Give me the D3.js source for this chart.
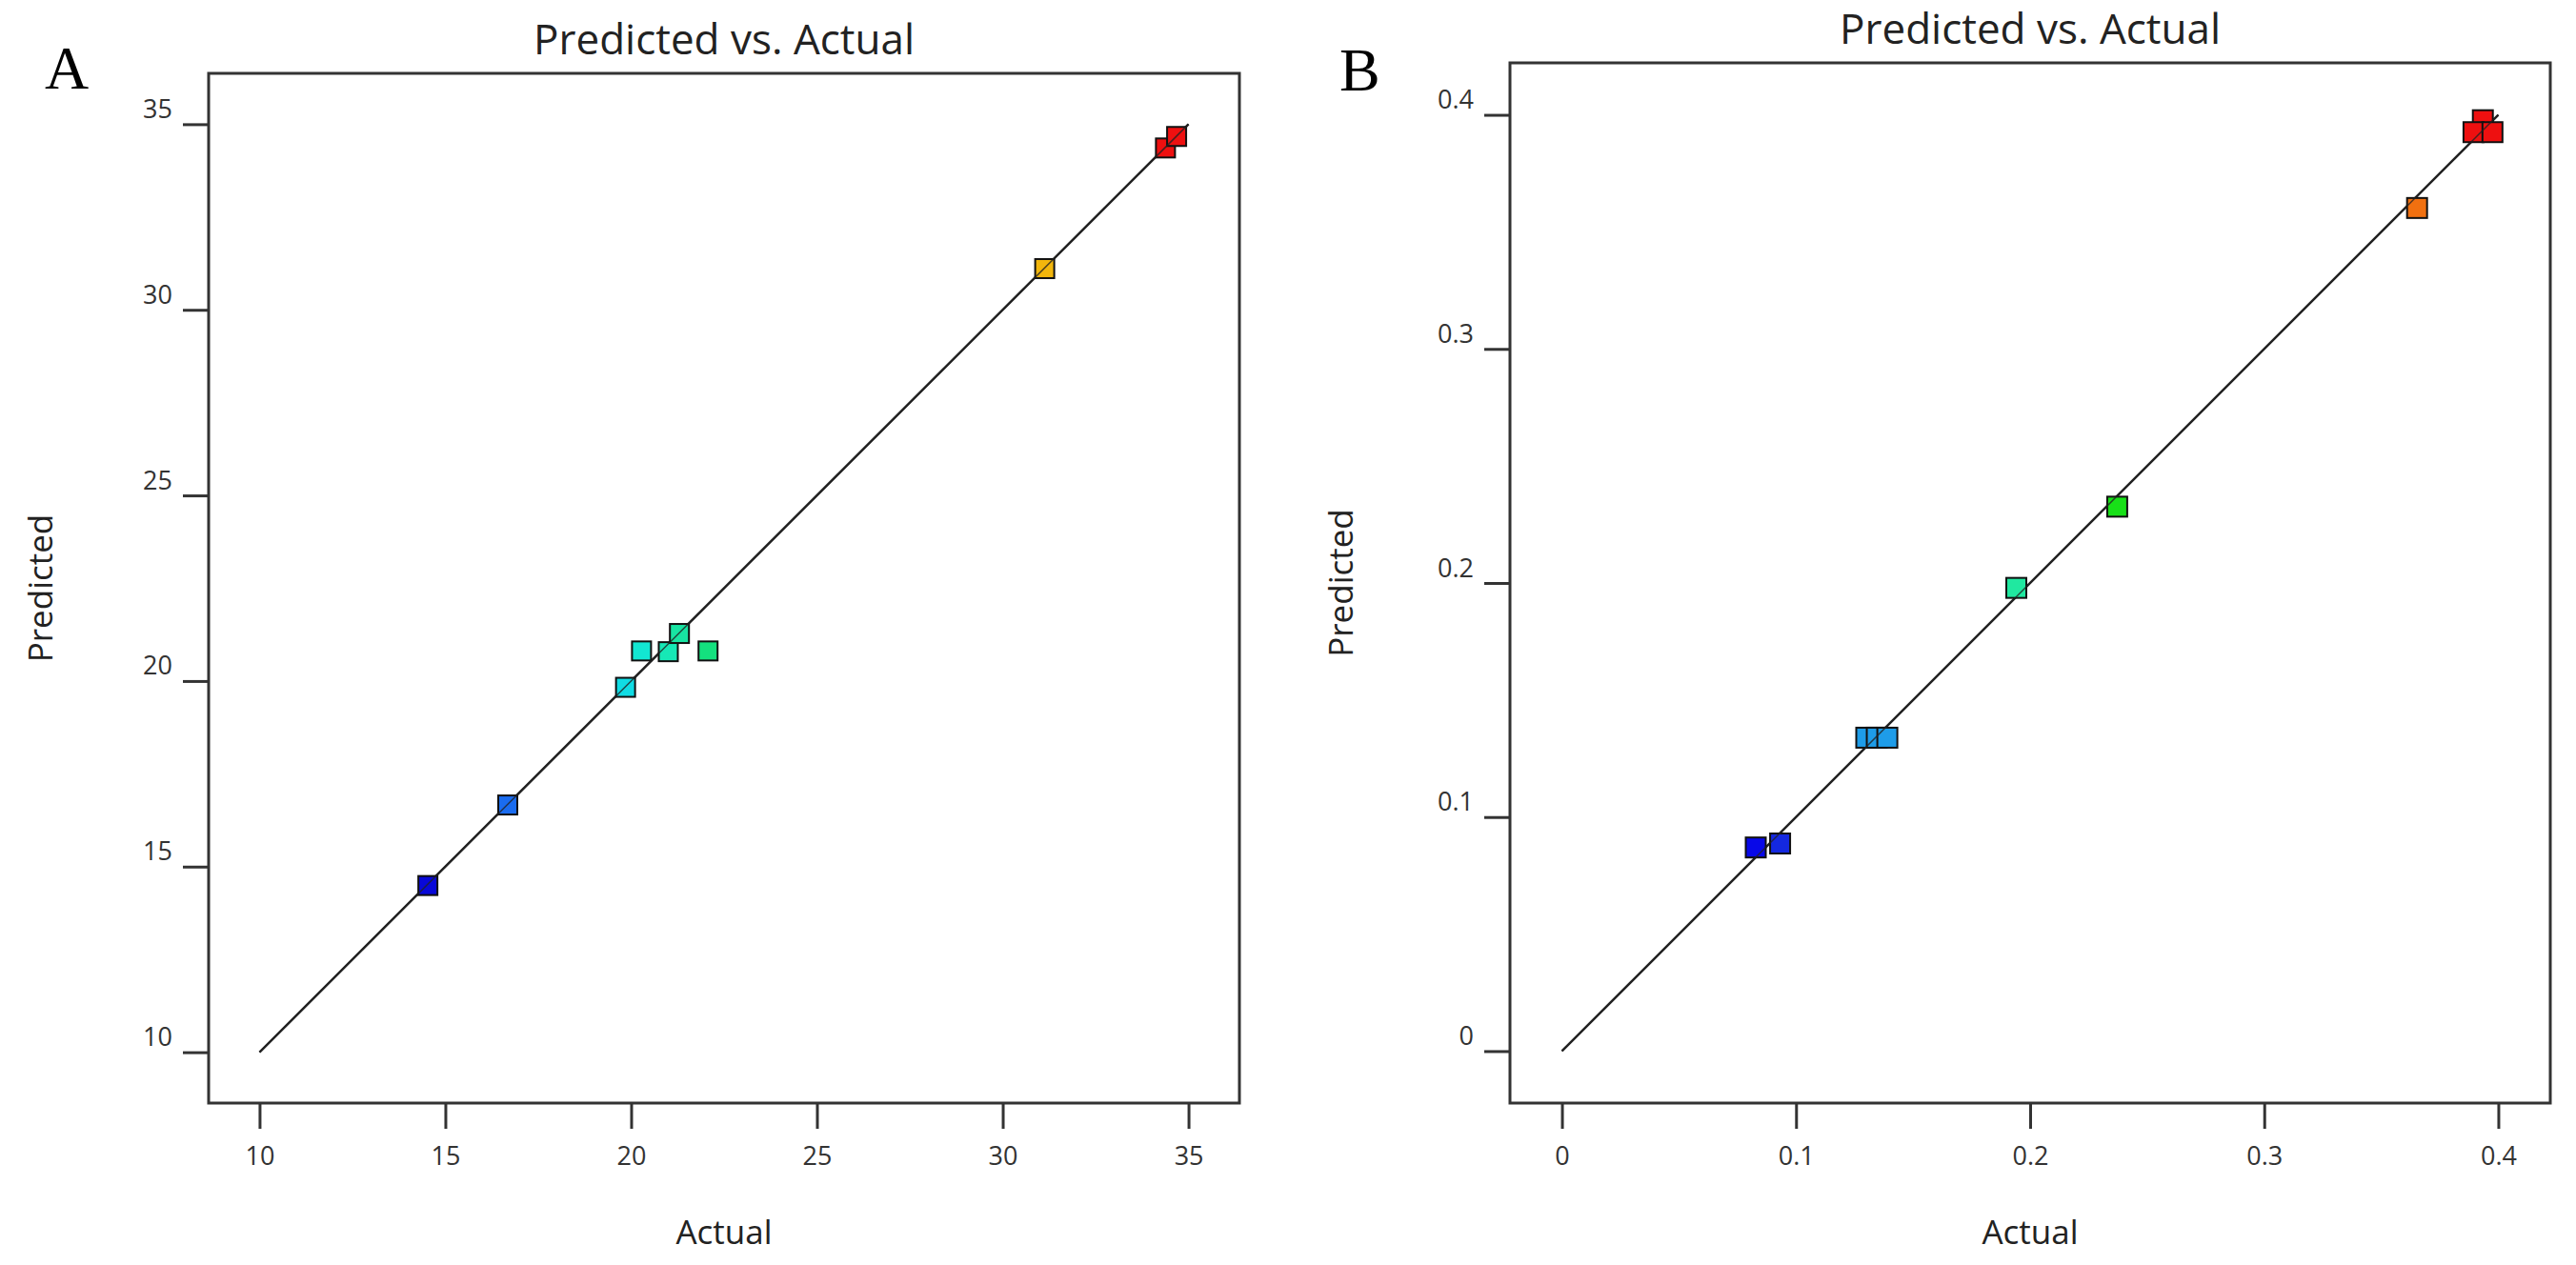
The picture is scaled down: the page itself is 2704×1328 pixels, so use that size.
<!DOCTYPE html>
<html lang="en">
<head>
    <meta charset="UTF-8">
    <title>Predicted vs. Actual</title>
    <script src="https://d3js.org/d3.v7.min.js"></script>
    <style>
        body { margin: 0; background: #fff; }
        svg { display: block; font-family: "Open Sans", "Noto Sans", sans-serif; }
        .tick text { font-family: "Open Sans", "Noto Sans", sans-serif; font-size: 27px; fill: #333; }
        .tick line { stroke: #333; stroke-width: 3; }
        .title { font-size: 44px; fill: #222; text-anchor: middle; }
        .axis-label { font-size: 35px; fill: #222; text-anchor: middle; }
        .panel-letter { font-family: "Liberation Serif", "DejaVu Serif", serif; font-size: 64px; fill: #000; }
    </style>
</head>
<body>
<div id="chart"></div>
<script>
    // Panel A
    const actualA = [14.53, 16.68, 19.85, 20.28, 21.0, 21.3, 22.07, 31.13, 34.38, 34.68];
    const predictedA = [14.49, 16.66, 19.83, 20.81, 20.79, 21.28, 20.81, 31.11, 34.36, 34.67];
    const colorsA = ["#0808d8", "#1a6cf0", "#10dce4", "#12e6d2", "#16e8b6", "#18e4a2", "#14e07e", "#f2b60c", "#ee1010", "#ee1010"];
    const ticksA = [10, 15, 20, 25, 30, 35];
    const lineA = [10, 35];

    // Panel B
    const actualB = [0.0828, 0.0932, 0.130, 0.1345, 0.139, 0.1941, 0.2372, 0.3653, 0.3934, 0.3894, 0.3975];
    const predictedB = [0.0870, 0.0887, 0.1339, 0.1339, 0.1339, 0.1979, 0.2326, 0.3602, 0.3977, 0.3926, 0.3926];
    const colorsB = ["#0808e8", "#1428e0", "#1e9ce8", "#1e9ce8", "#1e9ce8", "#20e8a0", "#18e018", "#f07010", "#ee1010", "#ee1010", "#ee1010"];
    const ticksB = [0, 0.1, 0.2, 0.3, 0.4];
    const lineB = [0, 0.4];

    const svg = d3.select("#chart").append("svg").attr("width", 2704).attr("height", 1328);

    function panel(cfg) {
        const x = d3.scaleLinear().domain(cfg.domain).range([cfg.left, cfg.right]);
        const y = d3.scaleLinear().domain(cfg.domain).range([cfg.bottom, cfg.top]);
        const g = svg.append("g");

        g.append("text").attr("class", "panel-letter").attr("x", cfg.letterX).attr("y", cfg.letterY).text(cfg.letter);
        g.append("text").attr("class", "title").attr("x", (cfg.left + cfg.right) / 2).attr("y", cfg.top - 20).text("Predicted vs. Actual");

        // axes, ticks outside the frame
        const xAxis = g.append("g").attr("transform", `translate(0,${cfg.bottom})`)
            .call(d3.axisBottom(x).tickValues(cfg.ticks).tickSize(27).tickFormat(d3.format("~g")));
        xAxis.attr("font-family", null).attr("font-size", null);
        xAxis.select(".domain").remove();
        xAxis.selectAll(".tick text").attr("y", 65).attr("dy", 0).attr("fill", null);
        xAxis.selectAll(".tick line").attr("stroke", null);

        const yAxis = g.append("g").attr("transform", `translate(${cfg.left},0)`)
            .call(d3.axisLeft(y).tickValues(cfg.ticks).tickSize(27).tickPadding(11).tickFormat(d3.format("~g")));
        yAxis.attr("font-family", null).attr("font-size", null);
        yAxis.select(".domain").remove();
        yAxis.selectAll(".tick text").attr("dy", -7).attr("fill", null);
        yAxis.selectAll(".tick line").attr("stroke", null);

        g.append("rect")
            .attr("x", cfg.left).attr("y", cfg.top)
            .attr("width", cfg.right - cfg.left).attr("height", cfg.bottom - cfg.top)
            .attr("fill", "none").attr("stroke", "#333").attr("stroke-width", 3);

        // 1:1 line
        g.append("line")
            .attr("x1", x(cfg.line[0])).attr("y1", y(cfg.line[0]))
            .attr("x2", x(cfg.line[1])).attr("y2", y(cfg.line[1]))
            .attr("stroke", "#222").attr("stroke-width", 2.5);

        const s = cfg.size;
        g.selectAll("rect.pt")
            .data(cfg.actual.map((a, i) => ({ a, p: cfg.predicted[i], c: cfg.colors[i] })))
            .enter().append("rect")
            .attr("class", "pt")
            .attr("x", d => x(d.a) - s / 2)
            .attr("y", d => y(d.p) - s / 2)
            .attr("width", s).attr("height", s)
            .attr("fill", d => d.c)
            .attr("stroke", "#111").attr("stroke-width", 2);

        // diagonal line drawn over the squares, like the original
        g.append("line")
            .attr("x1", x(cfg.line[0])).attr("y1", y(cfg.line[0]))
            .attr("x2", x(cfg.line[1])).attr("y2", y(cfg.line[1]))
            .attr("stroke", "#222").attr("stroke-width", 1.5).attr("opacity", 0.8);

        g.append("text").attr("class", "axis-label")
            .attr("x", (cfg.left + cfg.right) / 2).attr("y", 1306).text("Actual");
        g.append("text").attr("class", "axis-label")
            .attr("transform", `translate(${cfg.labelX},${(cfg.top + cfg.bottom) / 2}) rotate(-90)`)
            .text("Predicted");
    }

    panel({
        letter: "A", letterX: 47, letterY: 93,
        left: 219, right: 1301, top: 77, bottom: 1158,
        domain: [8.63, 36.37], ticks: ticksA, line: lineA,
        actual: actualA, predicted: predictedA, colors: colorsA,
        size: 20, labelX: 55
    });

    panel({
        letter: "B", letterX: 1406, letterY: 95,
        left: 1585, right: 2677, top: 66, bottom: 1158,
        domain: [-0.0222, 0.4222], ticks: ticksB, line: lineB,
        actual: actualB, predicted: predictedB, colors: colorsB,
        size: 21, labelX: 1420
    });
</script>
</body>
</html>
